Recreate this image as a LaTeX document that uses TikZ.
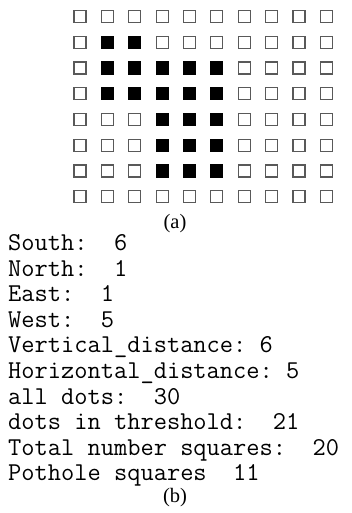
\documentclass[tikz,border=0pt]{standalone}
\usepackage{fontspec}
\setmainfont{Liberation Serif}
\usetikzlibrary{positioning}

\tikzset{
  sq/.style={draw=black!65, line width=1.2pt, minimum size=12pt, inner sep=0pt},
  fsq/.style={sq, draw=black, fill=black},
  outline/.style={anchor=base west, inner sep=0pt, font=\ttfamily\fontsize{25.7}{30}\selectfont},
  subcap/.style={inner sep=0pt, font=\fontsize{20.5}{24}\selectfont}
}

\begin{document}
\begin{tikzpicture}[x=1pt, y=-1pt]
    \useasboundingbox (0,0) rectangle (351,513);
    % 网格 (a)
    \foreach \r in {1,...,8}
      \foreach \c in {1,...,10} {
        \pgfmathtruncatemacro{\f}{(\r==2 && \c>1 && \c<4) || ((\r==3 || \r==4) && \c>1 && \c<7) || (\r>4 && \r<8 && \c>3 && \c<7)}
        \ifnum\f=1 \def\st{fsq}\else\def\st{sq}\fi
        \node[\st] (s\r-\c) at ({80+27.37*(\c-1)}, {16.7+25.7*(\r-1)}) {};
      }
    \node[subcap] (capA) at (175,224) {(a)};
    % 输出 (b)
    \node[outline] (south) at (8,250.7) {South:\ \ 6};
    \node[outline] (north) at (8,276.3) {North:\ \ 1};
    \node[outline] (east) at (8,301.8) {East:\ \ 1};
    \node[outline] (west) at (8,327.4) {West:\ \ 5};
    \node[outline] (vdist) at (8,352.9) {Vertical\_distance:\ 6};
    \node[outline] (hdist) at (8,378.5) {Horizontal\_distance:\ 5};
    \node[outline] (alldots) at (8,404.1) {all\ dots:\ \ 30};
    \node[outline] (thresh) at (8,429.6) {dots\ in\ threshold:\ \ 21};
    \node[outline] (total) at (8,455.2) {Total\ number\ squares:\ \ 20};
    \node[outline] (pothole) at (8,480.7) {Pothole\ squares\ \ 11};
    \node[subcap] (capB) at (175,498) {(b)};
\end{tikzpicture}
\end{document}
